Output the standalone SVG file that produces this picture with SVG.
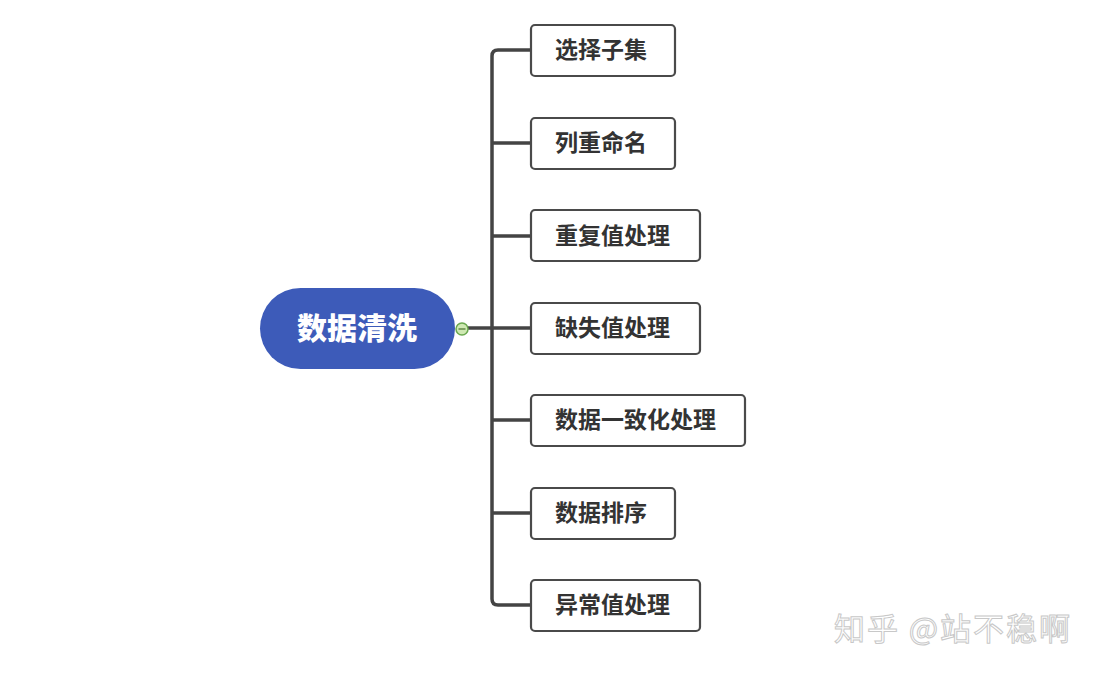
<svg xmlns="http://www.w3.org/2000/svg" width="1099" height="675" viewBox="0 0 1099 675">
<style>
.box{fill:#fff;stroke:#4a4a4a;stroke-width:2.2}
.lbl{font-family:"Noto Sans CJK SC","Noto Sans",sans-serif;font-weight:bold;font-size:23px;fill:#333}
.conn{fill:none;stroke:#444;stroke-width:3.5;stroke-linejoin:round}
</style>
<rect width="1099" height="675" fill="#fff"/>
<g id="connectors">
<path class="conn" d="M468,328 H492" stroke-width="5"/>
<path class="conn" d="M531,50 H498 Q492,50 492,56 V599 Q492,605 498,605 H531"/>
<path class="conn" d="M492,143 H531 M492,236 H531 M492,328 H531 M492,420 H531 M492,513 H531"/>
</g>
<g id="root">
<rect x="260" y="288" width="195" height="81" rx="40.5" fill="#3d5bb9"/>
<text x="357" y="339" text-anchor="middle" font-family="'Noto Sans CJK SC',sans-serif" font-weight="900" font-size="30" fill="#fff">数据清洗</text>
<circle cx="462" cy="329" r="6" fill="#cfe9b3" stroke="#6aa84f" stroke-width="1.5"/>
<line x1="458.5" y1="329" x2="465.5" y2="329" stroke="#4f7a35" stroke-width="1.3"/>
</g>
<g id="n1"><rect class="box" x="531" y="25" width="144" height="51" rx="4"/><text class="lbl" x="555" y="58">选择子集</text></g>
<g id="n2"><rect class="box" x="531" y="118" width="144" height="51" rx="4"/><text class="lbl" x="555" y="151">列重命名</text></g>
<g id="n3"><rect class="box" x="531" y="210" width="169" height="51" rx="4"/><text class="lbl" x="555" y="244">重复值处理</text></g>
<g id="n4"><rect class="box" x="531" y="303" width="169" height="51" rx="4"/><text class="lbl" x="555" y="336">缺失值处理</text></g>
<g id="n5"><rect class="box" x="531" y="395" width="214" height="51" rx="4"/><text class="lbl" x="555" y="428">数据一致化处理</text></g>
<g id="n6"><rect class="box" x="531" y="488" width="144" height="51" rx="4"/><text class="lbl" x="555" y="521">数据排序</text></g>
<g id="n7"><rect class="box" x="531" y="580" width="169" height="51" rx="4"/><text class="lbl" x="555" y="613">异常值处理</text></g>
<text x="834" y="640" font-family="'Noto Sans CJK SC',sans-serif" font-size="31" fill="#fff" stroke="#c8c8c8" stroke-width="1" textLength="236" lengthAdjust="spacing">知乎 @站不稳啊</text>
</svg>
